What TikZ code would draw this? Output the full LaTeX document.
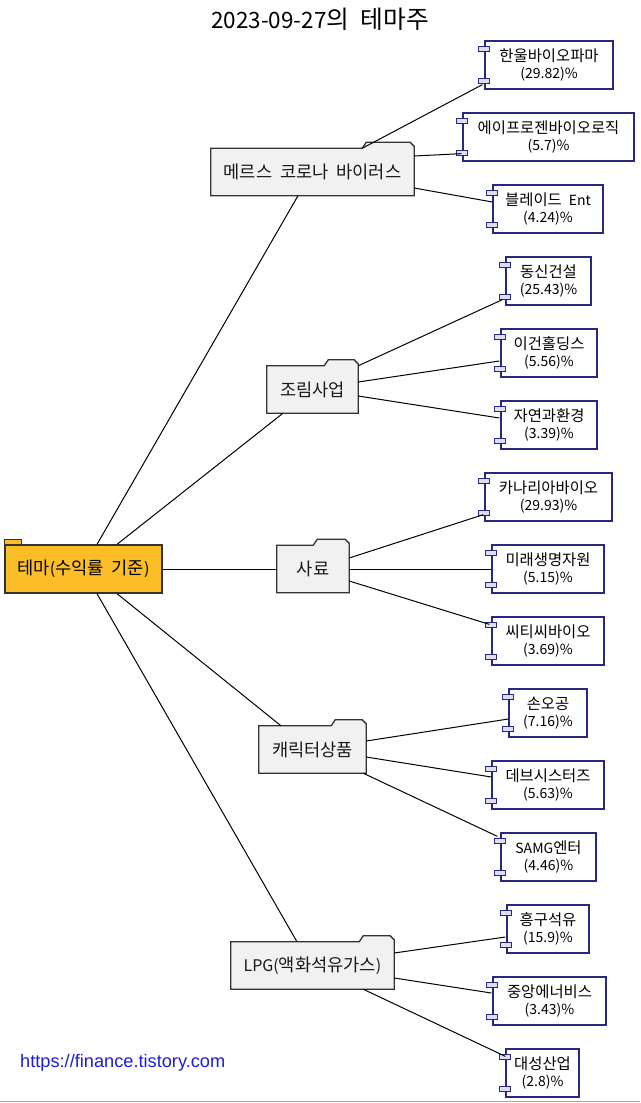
\documentclass[tikz,border=0pt]{standalone}
\usepackage{fontspec}
\newfontfamily\kr[Scale=1.1,WordSpace=2.0]{Noto Sans CJK KR}
\newfontfamily\lat[WordSpace=2]{Noto Sans CJK KR}
\newfontfamily\linkfont{Liberation Sans}
\newcommand{\hg}[1]{{\kr #1}}
\usetikzlibrary{calc,backgrounds}
\definecolor{gold}{RGB}{251,190,40}
\definecolor{foldergray}{RGB}{241,241,241}
\definecolor{navy}{RGB}{40,40,130}
\definecolor{portfill}{RGB}{222,222,242}
\definecolor{linkblue}{RGB}{30,30,210}
\tikzset{
  conn/.style={draw=black, line width=1pt},
  foldertext/.style={font=\lat\fontsize{16}{19}\selectfont, text=black!90, inner sep=0pt, minimum height=47},
  folderbody/.style={draw=black!80, fill=foldergray, line width=1.3pt, line join=miter},
  rootbox/.style={draw=black!80, fill=gold, line width=1.3pt, minimum width=157, minimum height=48, inner sep=0pt, font=\lat\fontsize{16}{19}\selectfont},
  comp/.style={draw=navy, fill=white, line width=1.3pt, minimum height=48, inner sep=1pt, align=center, font=\lat\fontsize{14}{16.5}\selectfont},
  port/.style={draw=navy, fill=portfill, line width=1pt},
}
\newcommand{\drawfolder}[2]{%
  \begin{scope}[on background layer]
  \filldraw[folderbody] (#1.south west) -- (#1.north west) -- ([shift={(-#2,0)}]#1.north east) -- ++(4,-6) -- ([shift={(-4,-6)}]#1.north east) -- ([shift={(0,-2)}]#1.north east) -- (#1.south east) -- cycle;
  \end{scope}}
\newcommand{\drawports}[1]{%
  \filldraw[port] ([shift={(-5.5,6)}]#1.north west) rectangle ++(11,5);
  \filldraw[port] ([shift={(-5.5,-11)}]#1.south west) rectangle ++(11,5);}
\begin{document}
\begin{tikzpicture}[x=1pt,y=-1pt]
\begin{scope}[on background layer]
\fill[white] (0,0) rectangle (640,1103);
\end{scope}
\useasboundingbox (0,0) rectangle (640,1103);

\node[font=\lat\fontsize{22.5}{26}\selectfont] (title) at (320,19) {2023-09-27\hg{의 테마주}};

% root
\node[rootbox] (root) at (83.5,569) {\hg{테마}(\hg{수익률 기준})};
\begin{scope}[on background layer]
\filldraw[draw=black!80, fill=gold, line width=1.3pt] (root.north west) rectangle ++(17,-5);
\end{scope}

% folders
\node[foldertext, minimum width=203] (f1) at (312.5,172) {\hg{메르스 코로나 바이러스}};
\drawfolder{f1}{52}
\node[foldertext, minimum width=91] (f2) at (312.5,389.5) {\hg{조림사업}};
\drawfolder{f2}{34}
\node[foldertext, minimum width=72] (f3) at (313,569) {\hg{사료}};
\drawfolder{f3}{36}
\node[foldertext, minimum width=107] (f4) at (312.5,749.5) {\hg{캐릭터상품}};
\drawfolder{f4}{35}
\node[foldertext, minimum width=163] (f5) at (312.5,965.5) {LPG(\hg{액화석유가스})};
\drawfolder{f5}{35}

% components
\node[comp, minimum width=128] (c1) at (549,65) {\hg{한울바이오파마}\\(29.82)\%};
\node[comp, minimum width=171] (c2) at (548.5,137) {\hg{에이프로젠바이오로직}\\(5.7)\%};
\node[comp, minimum width=110] (c3) at (548,209) {\hg{블레이드 }Ent\\(4.24)\%};
\node[comp, minimum width=85] (c4) at (548.5,281) {\hg{동신건설}\\(25.43)\%};
\node[comp, minimum width=96] (c5) at (549,353) {\hg{이건홀딩스}\\(5.56)\%};
\node[comp, minimum width=96] (c6) at (549,425) {\hg{자연과환경}\\(3.39)\%};
\node[comp, minimum width=127] (c7) at (548.5,497) {\hg{카나리아바이오}\\(29.93)\%};
\node[comp, minimum width=112] (c8) at (548,569) {\hg{미래생명자원}\\(5.15)\%};
\node[comp, minimum width=112] (c9) at (548,641) {\hg{씨티씨바이오}\\(3.69)\%};
\node[comp, minimum width=78] (c10) at (548,713) {\hg{손오공}\\(7.16)\%};
\node[comp, minimum width=112] (c11) at (548,785) {\hg{데브시스터즈}\\(5.63)\%};
\node[comp, minimum width=95] (c12) at (548.5,857) {SAMG\hg{엔터}\\(4.46)\%};
\node[comp, minimum width=82] (c13) at (548,929) {\hg{흥구석유}\\(15.9)\%};
\node[comp, minimum width=113] (c14) at (549.5,1001) {\hg{중앙에너비스}\\(3.43)\%};
\node[comp, minimum width=73] (c15) at (542.5,1073) {\hg{대성산업}\\(2.8)\%};
\foreach \c in {c1,c2,c3,c4,c5,c6,c7,c8,c9,c10,c11,c12,c13,c14,c15}{\drawports{\c}}

% root connectors
\draw[conn] ([shift={(13.5,0)}]root.north) -- ([shift={(-14.5,0)}]f1.south);
\draw[conn] ([shift={(33.5,0)}]root.north) -- ([shift={(-29.5,0)}]f2.south);
\draw[conn] (root.east) -- (f3.west);
\draw[conn] ([shift={(33.5,0)}]root.south) -- ([shift={(-31.5,0)}]f4.north);
\draw[conn] ([shift={(13.5,0)}]root.south) -- ([shift={(-15.5,0)}]f5.north);

% folder -> component connectors
\draw[conn] ([shift={(-52,0)}]f1.north east) -- ([shift={(-2,-5)}]c1.south west);
\draw[conn] ([shift={(0,-16)}]f1.east) -- ([shift={(-1,-8)}]c2.south west);
\draw[conn] ([shift={(0,16)}]f1.east) -- ([shift={(0,-7)}]c3.west);

\draw[conn] (f2.north east) -- ([shift={(-3,-6)}]c4.south west);
\draw[conn] ([shift={(0,-7.5)}]f2.east) -- ([shift={(-1,8)}]c5.west);
\draw[conn] ([shift={(0,6.5)}]f2.east) -- ([shift={(-1,-7)}]c6.west);

\draw[conn] ([shift={(0,-11)}]f3.east) -- ([shift={(-1,-7)}]c7.south west);
\draw[conn] (f3.east) -- (c8.west);
\draw[conn] ([shift={(0,12)}]f3.east) -- ([shift={(-2,8)}]c9.north west);

\draw[conn] ([shift={(0,-8.5)}]f4.east) -- ([shift={(0,6)}]c10.west);
\draw[conn] ([shift={(0,7.5)}]f4.east) -- ([shift={(0,-8)}]c11.west);
\draw[conn] ([shift={(-3,0)}]f4.south east) -- ([shift={(-3,4)}]c12.north west);

\draw[conn] ([shift={(0,-12.5)}]f5.east) -- ([shift={(-1,8)}]c13.west);
\draw[conn] ([shift={(0,12.5)}]f5.east) -- ([shift={(-1,-8)}]c14.west);
\draw[conn] ([shift={(-31,0)}]f5.south east) -- ([shift={(0,8)}]c15.north west);

% footer
\node[anchor=west, font=\linkfont\fontsize{18.2}{21}\selectfont, text=linkblue, inner sep=0pt] (url) at (20,1063) {https://finance.tistory.com};
\coordinate (bl) at (0,1101.5);
\coordinate (br) at (640,1101.5);
\draw[black!35, line width=1.5pt] (bl) -- (br);
\end{tikzpicture}
\end{document}
